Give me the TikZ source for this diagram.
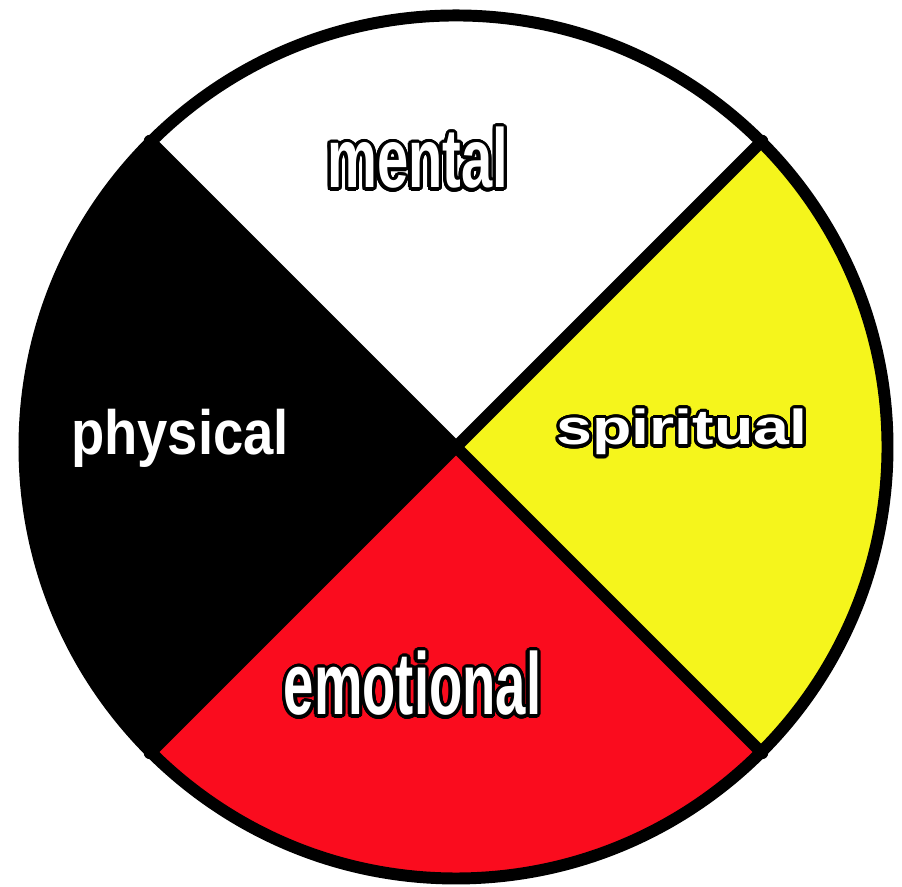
\documentclass[tikz,border=0pt]{standalone}
\usepackage{fontspec}
\setmainfont{Liberation Sans}
\usepackage{graphicx}
\usepackage{xcolor}
\usepackage{tikz}
\usepackage{tkz-euclide}
\usepackage{contour}
\contourlength{0.9pt}
\contournumber{32}
\definecolor{WheelRed}{RGB}{250,12,30}
\definecolor{WheelYellow}{RGB}{245,245,28}
\newcommand{\rimmed}[2]{\contour{black}{\scalebox{#1}[1]{#2}}}

\begin{document}
\begin{tikzpicture}[wheel/.style={line width=3.4pt,color=black},
  lbl/.style={anchor=base,inner sep=0pt,text=white}]
  \useasboundingbox (0,0) rectangle (9.02,8.87);
  \tkzDefPoint(4.56,4.40){O}
  \tkzDefPoint(7.622,7.462){A}
  \tkzDefPoint(1.498,7.462){B}
  \tkzDefPoint(1.498,1.338){C}
  \tkzDefPoint(7.622,1.338){D}
  \fill[white] (O) -- (A) arc[start angle=45,end angle=135,radius=4.33] -- cycle;
  \fill[black] (O) -- (B) arc[start angle=135,end angle=225,radius=4.33] -- cycle;
  \fill[WheelRed] (O) -- (C) arc[start angle=225,end angle=315,radius=4.33] -- cycle;
  \fill[WheelYellow] (O) -- (D) arc[start angle=-45,end angle=45,radius=4.33] -- cycle;
  \tkzDrawSegments[wheel](A,C B,D)
  \tkzDrawCircle[wheel](O,A)
  \node[lbl,font=\fontsize{23.8pt}{24pt}\selectfont\bfseries] (mental) at (4.175,6.99) {\rimmed{0.67}{mental}};
  \node[lbl,font=\fontsize{14pt}{14pt}\selectfont\bfseries] (spiritual) at (6.82,4.42) {\rimmed{1.31}{spiritual}};
  \node[lbl,font=\fontsize{17.8pt}{18pt}\selectfont\bfseries] (physical) at (1.80,4.32) {\scalebox{0.87}[1]{physical}};
  \node[lbl,font=\fontsize{25pt}{25pt}\selectfont\bfseries] (emotional) at (4.125,1.72) {\rimmed{0.62}{emotional}};
\end{tikzpicture}
\end{document}
